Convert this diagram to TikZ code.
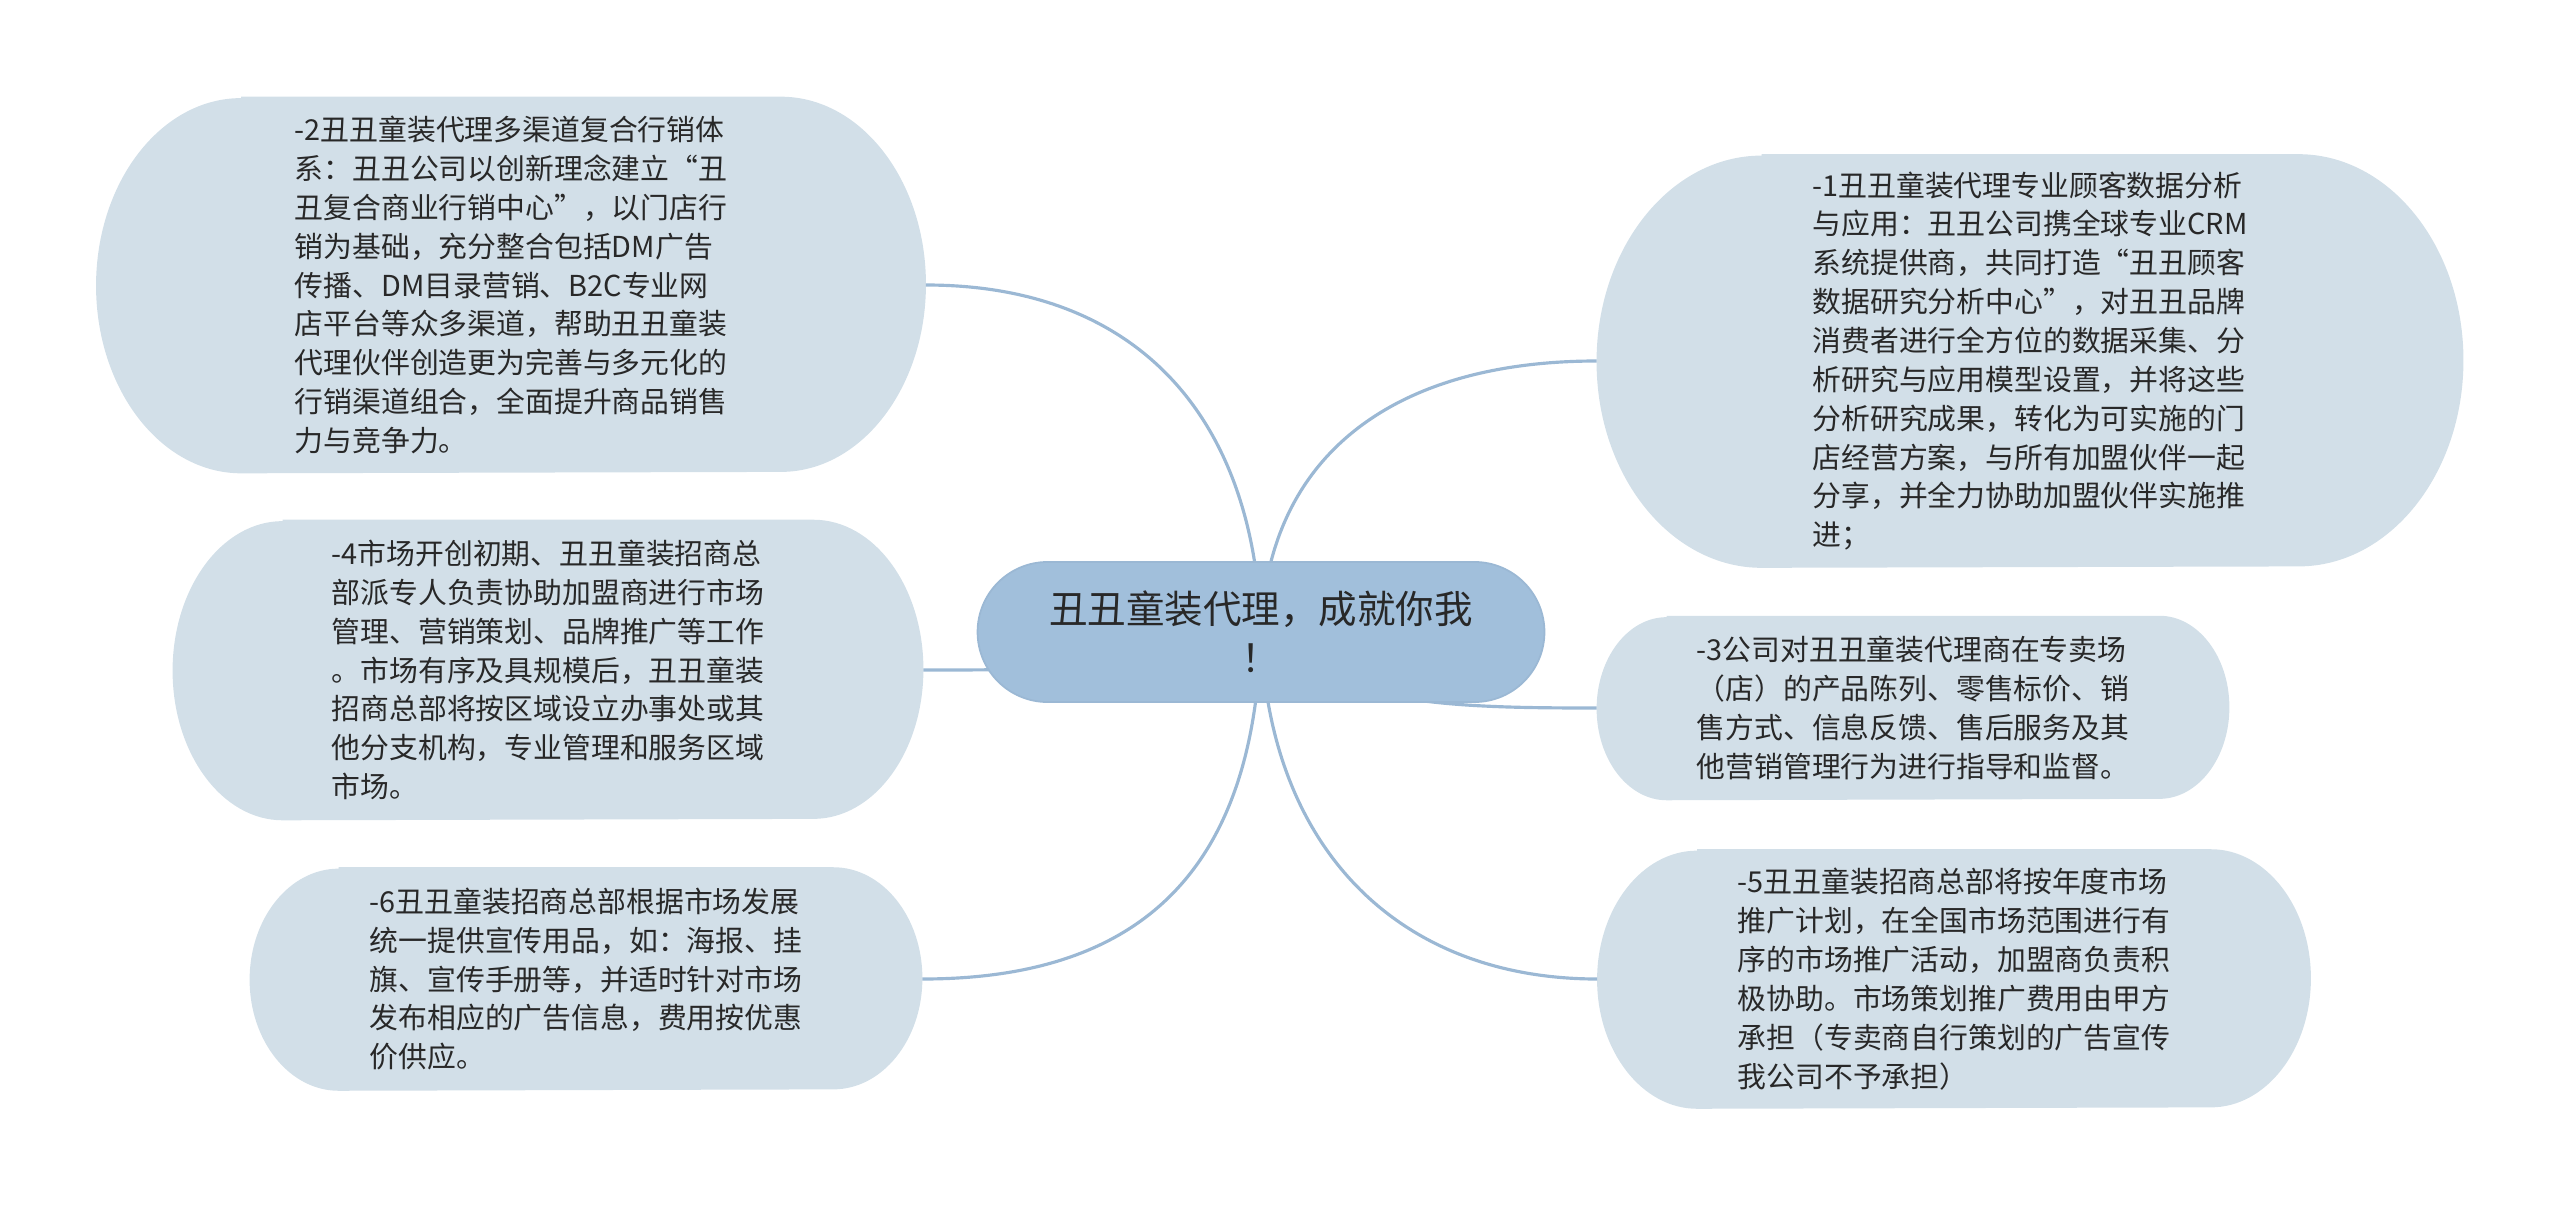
\documentclass[tikz,border=0pt]{standalone}
\usepackage{fontspec}
\setmainfont{Noto Sans CJK SC}
\usetikzlibrary{shapes.misc,backgrounds}
\definecolor{rootblue}{RGB}{161,191,219}
\definecolor{leafblue}{RGB}{210,223,232}
\definecolor{linkblue}{RGB}{155,184,212}
\definecolor{inkgray}{RGB}{40,40,40}
\begin{document}
\begin{tikzpicture}[x=0.01cm,y=-0.01cm,
  root/.style={rounded rectangle,fill=rootblue,draw=linkblue,line width=0.5pt,
    text=inkgray,align=center,font=\fontsize{10.95}{13.9}\selectfont},
  leaf/.style={text=inkgray,align=left,font=\fontsize{8.2}{11.05}\selectfont},
  link/.style={draw=linkblue,line width=0.9pt}]
\useasboundingbox (0,0) rectangle (2560,1206);

\node[root,minimum width=5.9cm,minimum height=1.4cm] (root) at (1261,632)
  {丑丑童装代理，成就你我\\！};

% left side
\node[leaf,minimum width=8.28cm,minimum height=3.75cm] (n2) at (511,285)
  {-2丑丑童装代理多渠道复合行销体\\系：丑丑公司以创新理念建立“丑\\丑复合商业行销中心”，以门店行\\销为基础，充分整合包括DM广告\\传播、DM目录营销、B2C专业网\\店平台等众多渠道，帮助丑丑童装\\代理伙伴创造更为完善与多元化的\\行销渠道组合，全面提升商品销售\\力与竞争力。};
\node[leaf,minimum width=7.49cm,minimum height=2.99cm] (n4) at (548,670)
  {-4市场开创初期、丑丑童装招商总\\部派专人负责协助加盟商进行市场\\管理、营销策划、品牌推广等工作\\。市场有序及具规模后，丑丑童装\\招商总部将按区域设立办事处或其\\他分支机构，专业管理和服务区域\\市场。};
\node[leaf,minimum width=6.71cm,minimum height=2.22cm] (n6) at (586,979)
  {-6丑丑童装招商总部根据市场发展\\统一提供宣传用品，如：海报、挂\\旗、宣传手册等，并适时针对市场\\发布相应的广告信息，费用按优惠\\价供应。};

% right side
\node[leaf,minimum width=8.65cm,minimum height=4.12cm] (n1) at (2030,361)
  {-1丑丑童装代理专业顾客数据分析\\与应用：丑丑公司携全球专业CRM\\系统提供商，共同打造“丑丑顾客\\数据研究分析中心”，对丑丑品牌\\消费者进行全方位的数据采集、分\\析研究与应用模型设置，并将这些\\分析研究成果，转化为可实施的门\\店经营方案，与所有加盟伙伴一起\\分享，并全力协助加盟伙伴实施推\\进；};
\node[leaf,minimum width=6.31cm,minimum height=1.83cm] (n3) at (1913,708)
  {-3公司对丑丑童装代理商在专卖场\\（店）的产品陈列、零售标价、销\\售方式、信息反馈、售后服务及其\\他营销管理行为进行指导和监督。};
\node[leaf,minimum width=7.12cm,minimum height=2.58cm] (n5) at (1954,979)
  {-5丑丑童装招商总部将按年度市场\\推广计划，在全国市场范围进行有\\序的市场推广活动，加盟商负责积\\极协助。市场策划推广费用由甲方\\承担（专卖商自行策划的广告宣传\\我公司不予承担）};

\begin{scope}[on background layer]
% leaf bubbles with elliptic ends
\foreach \nm/\rx/\ry in {n2/1.45/1.875, n4/1.1/1.495, n6/0.89/1.11,
                         n1/1.65/2.06, n3/0.7/0.915, n5/1.0/1.29}
  \fill[leafblue] ([xshift=\rx cm]\nm.north west) -- ([xshift=-\rx cm]\nm.north east)
    arc[start angle=90,end angle=-90,x radius=\rx cm,y radius=\ry cm]
    -- ([xshift=\rx cm]\nm.south west)
    arc[start angle=270,end angle=90,x radius=\rx cm,y radius=\ry cm] -- cycle;

\draw[link] (root.center) .. controls (1255,420) and (1140,285) .. (n2.east);
\draw[link] (root.center) .. controls (1150,670) and (1050,670) .. (n4.east);
\draw[link] (root.center) .. controls (1255,850) and (1160,979) .. (n6.east);
\draw[link] (root.center) .. controls (1268,450) and (1400,361) .. (n1.west);
\draw[link] (root.center) .. controls (1330,705) and (1450,708) .. (n3.west);
\draw[link] (root.center) .. controls (1268,850) and (1400,979) .. (n5.west);
\end{scope}
\end{tikzpicture}
\end{document}
